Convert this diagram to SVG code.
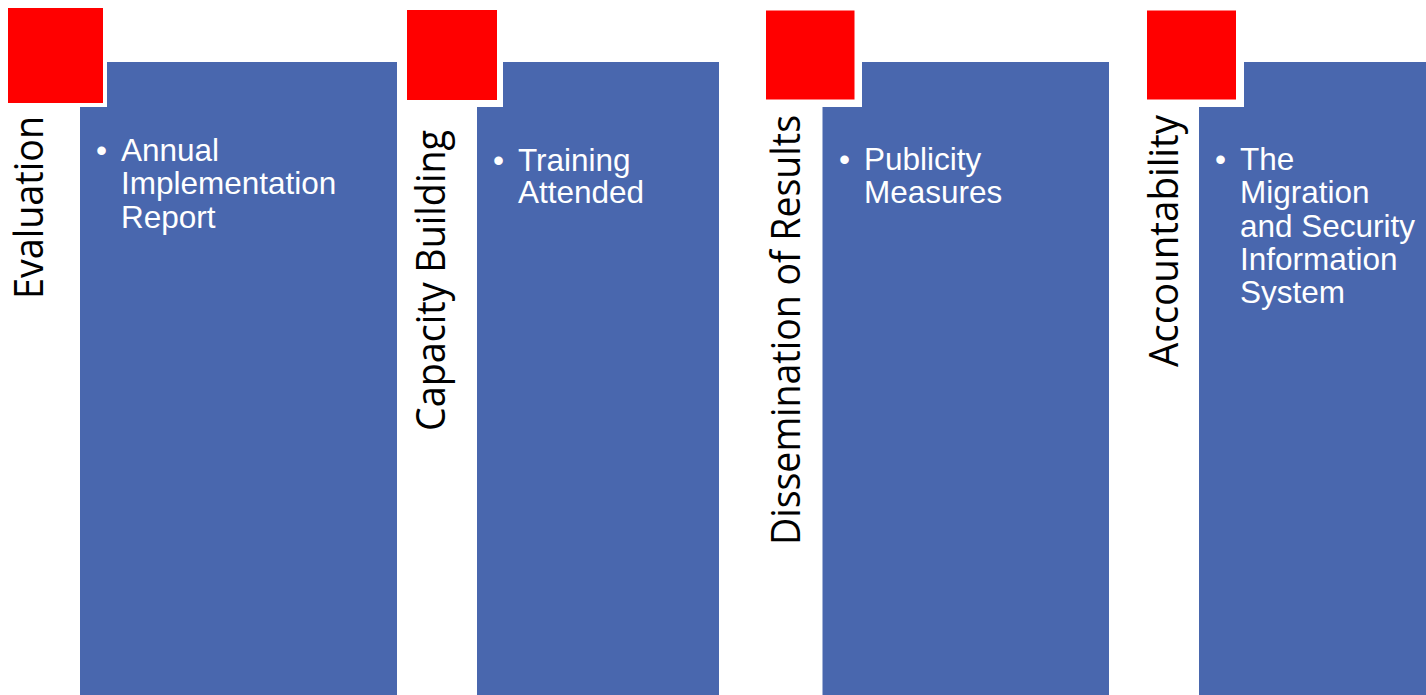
<svg xmlns="http://www.w3.org/2000/svg" width="1426" height="695" viewBox="0 0 1426 695">
<defs>
<style>
.blue{fill:#4967AE;}
.gap{fill:#FFFFFF;}
.red{fill:#FF0000;}
.title{font-family:"Open Sans","DejaVu Sans",sans-serif;font-size:40px;fill:#000000;}
.item{font-family:"Liberation Sans",Arial,sans-serif;font-size:31.5px;fill:#FFFFFF;}
</style>
</defs>
<rect x="0" y="0" width="1426" height="695" fill="#FFFFFF"/>
<g id="evaluation">
<rect class="blue" x="80" y="62" width="317" height="640"/>
<rect class="gap" x="4" y="4" width="103" height="103"/>
<rect class="red" x="8" y="8" width="95" height="95"/>
<text class="title" transform="translate(43,299) rotate(-90)" textLength="183" lengthAdjust="spacingAndGlyphs">Evaluation</text>
<text class="item" x="96" y="161">•</text>
<text class="item" x="121" y="161">Annual</text>
<text class="item" x="121" y="194">Implementation</text>
<text class="item" x="121" y="228">Report</text>
</g>
<g id="capacity-building">
<rect class="blue" x="477" y="62" width="242" height="640"/>
<rect class="gap" x="403" y="6" width="100" height="101"/>
<rect class="red" x="407" y="10" width="90" height="90"/>
<text class="title" transform="translate(445,431) rotate(-90)" textLength="301" lengthAdjust="spacingAndGlyphs">Capacity Building</text>
<text class="item" x="493" y="171">•</text>
<text class="item" x="518" y="171">Training</text>
<text class="item" x="518" y="203">Attended</text>
</g>
<g id="dissemination">
<rect class="blue" x="822.5" y="62" width="286.5" height="640"/>
<rect class="gap" x="762" y="6" width="100" height="101"/>
<rect class="red" x="766" y="10.5" width="88.5" height="89"/>
<text class="title" transform="translate(800,545) rotate(-90)" textLength="430" lengthAdjust="spacingAndGlyphs">Dissemination of Results</text>
<text class="item" x="839" y="170">•</text>
<text class="item" x="864" y="170">Publicity</text>
<text class="item" x="864" y="203">Measures</text>
</g>
<g id="accountability">
<rect class="blue" x="1199" y="62" width="240" height="640"/>
<rect class="gap" x="1143" y="6" width="101" height="101"/>
<rect class="red" x="1147" y="10.5" width="89" height="89"/>
<text class="title" transform="translate(1178,367) rotate(-90)" textLength="252" lengthAdjust="spacingAndGlyphs">Accountability</text>
<text class="item" x="1215" y="170">•</text>
<text class="item" x="1240" y="170">The</text>
<text class="item" x="1240" y="203">Migration</text>
<text class="item" x="1240" y="237">and Security</text>
<text class="item" x="1240" y="270">Information</text>
<text class="item" x="1240" y="303">System</text>
</g>
</svg>
